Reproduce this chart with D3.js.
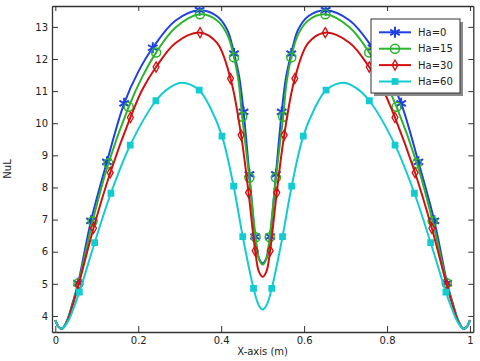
<!DOCTYPE html>
<html>
<head>
<meta charset="utf-8">
<script src="https://cdn.jsdelivr.net/npm/d3@7"></script>
<style>
  body { margin: 0; background: #fff; }
  text { font-family: "DejaVu Sans", sans-serif; fill: #222; }
</style>
</head>
<body>
<div id="chart"></div>
<script>
// series names + colours
var seriesNames = ["Ha=0", "Ha=15", "Ha=30", "Ha=60"];
var seriesColors = ["#1f3fe8", "#2bb52b", "#d40f0f", "#12ccd2"];

// curve points [x, NuL]
var curveHa0 = [[0,3.87],[0.008,3.66],[0.016,3.6],[0.028,3.85],[0.04,4.33],[0.055,5.02],[0.086,6.96],[0.1245,8.8],[0.166,10.62],[0.2,11.6],[0.235,12.35],[0.29,13.2],[0.348,13.52],[0.39,13.33],[0.415,12.9],[0.431,12.17],[0.444,11.4],[0.454,10.35],[0.468,8.41],[0.482,6.47],[0.491,5.8],[0.5,5.64],[0.509,5.8],[0.518,6.47],[0.532,8.41],[0.546,10.35],[0.556,11.4],[0.569,12.17],[0.585,12.9],[0.61,13.33],[0.652,13.52],[0.71,13.2],[0.765,12.35],[0.8,11.6],[0.834,10.62],[0.8755,8.8],[0.914,6.96],[0.945,5.02],[0.96,4.33],[0.972,3.85],[0.984,3.6],[0.992,3.66],[1,3.87]];
var curveHa15 = [[0,3.87],[0.008,3.66],[0.016,3.6],[0.028,3.83],[0.04,4.3],[0.056,5.02],[0.09,6.95],[0.128,8.75],[0.177,10.51],[0.21,11.45],[0.243,12.2],[0.29,12.98],[0.349,13.39],[0.39,13.2],[0.415,12.75],[0.431,12.05],[0.442,11.3],[0.4506,10.2],[0.468,8.31],[0.483,6.45],[0.491,5.78],[0.5,5.6],[0.509,5.78],[0.517,6.45],[0.532,8.31],[0.5494,10.2],[0.558,11.3],[0.569,12.05],[0.585,12.75],[0.61,13.2],[0.651,13.39],[0.71,12.98],[0.757,12.2],[0.79,11.45],[0.823,10.51],[0.872,8.75],[0.91,6.95],[0.944,5.02],[0.96,4.3],[0.972,3.83],[0.984,3.6],[0.992,3.66],[1,3.87]];
var curveHa30 = [[0,3.87],[0.008,3.66],[0.016,3.6],[0.028,3.8],[0.04,4.25],[0.056,4.96],[0.092,6.73],[0.1325,8.46],[0.181,10.18],[0.21,11.05],[0.243,11.75],[0.29,12.5],[0.349,12.82],[0.39,12.5],[0.4225,11.39],[0.448,9.63],[0.466,7.84],[0.482,6.03],[0.491,5.38],[0.5,5.22],[0.509,5.38],[0.518,6.03],[0.534,7.84],[0.552,9.63],[0.5775,11.39],[0.61,12.5],[0.651,12.82],[0.71,12.5],[0.757,11.75],[0.79,11.05],[0.819,10.18],[0.8675,8.46],[0.908,6.73],[0.944,4.96],[0.96,4.25],[0.972,3.8],[0.984,3.6],[0.992,3.66],[1,3.87]];
var curveHa60 = [[0,3.87],[0.008,3.66],[0.016,3.6],[0.03,3.82],[0.042,4.17],[0.058,4.74],[0.0948,6.28],[0.134,7.82],[0.1807,9.32],[0.2426,10.7],[0.275,11.1],[0.305,11.26],[0.347,11.03],[0.375,10.45],[0.402,9.6],[0.43,8.04],[0.452,6.47],[0.478,4.86],[0.49,4.35],[0.5,4.2],[0.51,4.35],[0.522,4.86],[0.548,6.47],[0.57,8.04],[0.598,9.6],[0.625,10.45],[0.653,11.03],[0.695,11.26],[0.725,11.1],[0.7574,10.7],[0.8193,9.32],[0.866,7.82],[0.9052,6.28],[0.942,4.74],[0.958,4.17],[0.97,3.82],[0.984,3.6],[0.992,3.66],[1,3.87]];

// marker points [x, NuL]
var markHa0 = [[0.055,5.02],[0.086,6.96],[0.1245,8.8],[0.166,10.62],[0.235,12.35],[0.348,13.52],[0.431,12.17],[0.454,10.35],[0.468,8.41],[0.482,6.47],[0.518,6.47],[0.532,8.41],[0.546,10.35],[0.569,12.17],[0.652,13.52],[0.765,12.35],[0.834,10.62],[0.8755,8.8],[0.914,6.96],[0.945,5.02]];
var markHa15 = [[0.056,5.02],[0.09,6.95],[0.128,8.75],[0.177,10.51],[0.243,12.2],[0.349,13.39],[0.431,12.05],[0.4506,10.2],[0.468,8.31],[0.483,6.45],[0.517,6.45],[0.532,8.31],[0.5494,10.2],[0.569,12.05],[0.651,13.39],[0.757,12.2],[0.823,10.51],[0.872,8.75],[0.91,6.95],[0.944,5.02]];
var markHa30 = [[0.056,4.96],[0.092,6.73],[0.1325,8.46],[0.181,10.18],[0.243,11.75],[0.349,12.82],[0.4225,11.39],[0.448,9.63],[0.466,7.84],[0.482,6.03],[0.518,6.03],[0.534,7.84],[0.552,9.63],[0.5775,11.39],[0.651,12.82],[0.757,11.75],[0.819,10.18],[0.8675,8.46],[0.908,6.73],[0.944,4.96]];
var markHa60 = [[0.058,4.74],[0.0948,6.28],[0.134,7.82],[0.1807,9.32],[0.2426,10.7],[0.347,11.03],[0.402,9.6],[0.43,8.04],[0.452,6.47],[0.478,4.86],[0.522,4.86],[0.548,6.47],[0.57,8.04],[0.598,9.6],[0.653,11.03],[0.7574,10.7],[0.8193,9.32],[0.866,7.82],[0.9052,6.28],[0.942,4.74]];

// ticks
var xTicks = [0, 0.2, 0.4, 0.6, 0.8, 1];
var xTickLabels = ["0", "0.2", "0.4", "0.6", "0.8", "1"];
var yTicks = [4, 5, 6, 7, 8, 9, 10, 11, 12, 13];

var curves = [curveHa0, curveHa15, curveHa30, curveHa60];
var markers = [markHa0, markHa15, markHa30, markHa60];
var markerKinds = ["asterisk", "circle", "diamond", "square"];

// set the dimensions and margins of the graph
var margin = { top: 6, right: 6.7, bottom: 29, left: 52 },
    width = 480 - margin.left - margin.right,
    height = 361 - margin.top - margin.bottom;

var svg = d3.select("#chart")
    .append("svg")
    .attr("width", 480)
    .attr("height", 361)
    .append("g")
    .attr("transform", "translate(" + margin.left + "," + margin.top + ")");

var x = d3.scaleLinear().domain([-0.008, 1.008]).range([0, width]);
var y = d3.scaleLinear().domain([3.5, 13.65]).range([height, 0]);

// frame + axes, ticks pointing inward
function styleAxis(g) {
    g.selectAll(".domain").attr("stroke", "#333").attr("stroke-width", 1.3);
    g.selectAll(".tick line").attr("stroke", "#333").attr("stroke-width", 1);
    g.selectAll(".tick text").attr("font-size", "10px").attr("fill", "#222")
        .attr("font-family", "DejaVu Sans, sans-serif");
}

svg.append("g")
    .attr("transform", "translate(0," + height + ")")
    .call(d3.axisBottom(x).tickValues(xTicks)
        .tickFormat(function (d, i) { return xTickLabels[i]; })
        .tickSizeInner(-6).tickSizeOuter(0).tickPadding(5))
    .call(styleAxis);

svg.append("g")
    .call(d3.axisLeft(y).tickValues(yTicks).tickFormat(d3.format("d"))
        .tickSizeInner(-6).tickSizeOuter(0).tickPadding(4))
    .call(styleAxis);

svg.append("g")
    .call(d3.axisTop(x).tickValues(xTicks).tickFormat("")
        .tickSizeInner(-5).tickSizeOuter(0))
    .call(styleAxis);

svg.append("g")
    .attr("transform", "translate(" + width + ",0)")
    .call(d3.axisRight(y).tickValues(yTicks).tickFormat("")
        .tickSizeInner(-5).tickSizeOuter(0))
    .call(styleAxis);

// axis labels
svg.append("text")
    .attr("x", width / 2)
    .attr("y", height + 23)
    .style("text-anchor", "middle")
    .attr("font-size", "10px")
    .text("X-axis (m)");

svg.append("text")
    .attr("transform", "rotate(-90)")
    .attr("x", -height / 2)
    .attr("y", -41)
    .style("text-anchor", "middle")
    .attr("font-size", "10px")
    .text("NuL");

// clip
svg.append("clipPath").attr("id", "clip")
    .append("rect").attr("width", width).attr("height", height);

var line = d3.line()
    .x(function (d) { return x(d[0]); })
    .y(function (d) { return y(d[1]); })
    .curve(d3.curveCatmullRom.alpha(0.5));

function drawMarker(g, kind, color) {
    if (kind == "asterisk") {
        var r = 5.5;
        var p = "";
        [90, 30, -30].forEach(function (a) {
            var dx = r * Math.cos(a * Math.PI / 180), dy = r * Math.sin(a * Math.PI / 180);
            p += "M" + (-dx) + "," + (-dy) + "L" + dx + "," + dy;
        });
        g.append("path").attr("d", p).attr("stroke", color).attr("stroke-width", 2).attr("fill", "none");
    } else if (kind == "circle") {
        g.append("path").attr("d", d3.symbol().type(d3.symbolCircle).size(64)())
            .attr("fill", "none").attr("stroke", color).attr("stroke-width", 1.5);
    } else if (kind == "diamond") {
        g.append("path").attr("d", d3.symbol().type(d3.symbolDiamond).size(30)())
            .attr("fill", "none").attr("stroke", color).attr("stroke-width", 1.3);
    } else {
        g.append("path").attr("d", d3.symbol().type(d3.symbolSquare).size(46)())
            .attr("fill", color).attr("stroke", "none");
    }
}

var plot = svg.append("g").attr("clip-path", "url(#clip)");

curves.forEach(function (c, i) {
    plot.append("path")
        .datum(c)
        .attr("fill", "none")
        .attr("stroke", seriesColors[i])
        .attr("stroke-width", 2)
        .attr("d", line);

    plot.selectAll(".mk" + i)
        .data(markers[i])
        .enter()
        .append("g")
        .attr("class", "mk" + i)
        .attr("transform", function (d) { return "translate(" + x(d[0]) + "," + y(d[1]) + ")"; })
        .each(function () { drawMarker(d3.select(this), markerKinds[i], seriesColors[i]); });
});

//legend
var lx = 319, ly = 13, lw = 89, lh = 74;
svg.append("rect").attr("x", lx + 3).attr("y", ly + 3).attr("width", lw).attr("height", lh)
    .attr("fill", "#8a8a8a");
svg.append("rect").attr("x", lx).attr("y", ly).attr("width", lw).attr("height", lh)
    .attr("fill", "#fff").attr("stroke", "#333").attr("stroke-width", 1);

var legend = svg.selectAll(".legend")
    .data(seriesNames)
    .enter()
    .append("g")
    .attr("class", "legend")
    .attr("transform", function (d, i) {
        return "translate(" + (lx + 8) + "," + (ly + 13.3 + i * 16.4) + ")";
    });
legend.append("line")
    .attr("x1", 0).attr("x2", 32).attr("y1", 0).attr("y2", 0)
    .attr("stroke", function (d, i) { return seriesColors[i]; })
    .attr("stroke-width", 2);
legend.append("g")
    .attr("transform", "translate(16,0)")
    .each(function (d, i) { drawMarker(d3.select(this), markerKinds[i], seriesColors[i]); });
legend.append("text")
    .attr("x", 39)
    .attr("y", 0)
    .attr("dy", "0.35em")
    .attr("font-size", "10px")
    .text(function (d) { return d; });
</script>
</body>
</html>
